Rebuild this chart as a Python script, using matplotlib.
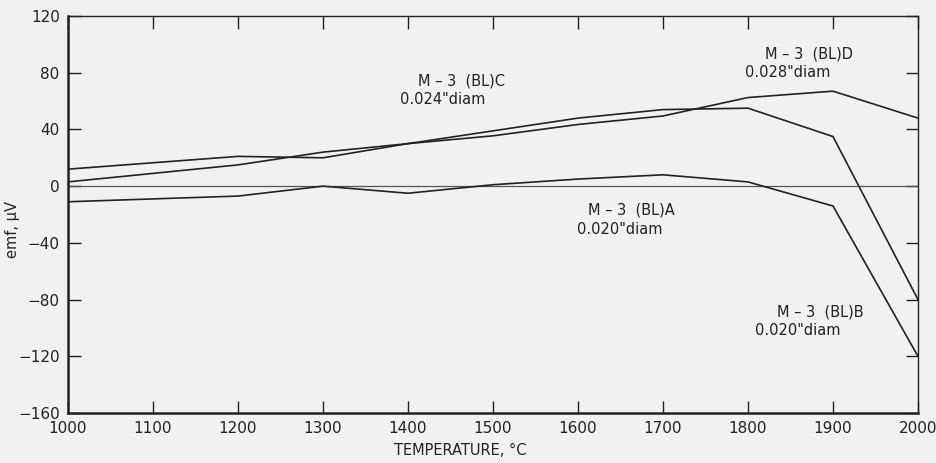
import numpy as np
import matplotlib
matplotlib.use('Agg')
import matplotlib.pyplot as plt

# temperatures, deg C
temp = [1000, 1100, 1200, 1300, 1400, 1500, 1600, 1700, 1800, 1900, 2000]

# emf readings (microvolt)
emf_A = [0, 0, 0, 0, 0, 0, 0, 0, 0, 0, 0]          # reference wire
emf_B = [-11, -9, -7, 0, -5, 1, 5, 8, 3, -14, -120]
emf_C = [12, 16.5, 21, 20, 30, 39, 48, 54, 55, 35, -80]
emf_D = [3, 9, 15, 24, 30, 35.5, 43.5, 49.5, 62.5, 67, 48]

xticks = np.arange(1000, 2001, 100)
yticks = np.arange(-160, 121, 40)

bg = '#f1f1f1'
ink = '#222222'

fig = plt.figure(figsize=(9.37, 4.63), dpi=100, facecolor=bg)
ax = fig.add_axes([0.0726, 0.108, 0.9071, 0.8574], facecolor=bg)

ax.plot(temp, emf_A, color='#555555', lw=0.9)
ax.plot(temp, emf_B, color=ink, lw=1.2)
ax.plot(temp, emf_C, color=ink, lw=1.2)
ax.plot(temp, emf_D, color=ink, lw=1.2)

ax.set_xlim(1000, 2000)
ax.set_ylim(-160, 120)
ax.set_xticks(xticks)
ax.set_yticks(yticks)
ax.tick_params(direction='in', length=9, width=1.0, color=ink,
               top=True, right=True, labelsize=11, labelcolor=ink, pad=6)
for s in ax.spines.values():
    s.set_color(ink)
    s.set_linewidth(1.0)
ax.spines['left'].set_linewidth(1.8)
ax.spines['bottom'].set_linewidth(1.8)

ax.set_xlabel('TEMPERATURE, °C', fontsize=10.5, color=ink)
ax.xaxis.set_label_coords(0.461, -0.076)
ax.set_ylabel('emf, µV', fontsize=10.5, color=ink)
ax.yaxis.set_label_coords(-0.057, 0.461)

# curve labels
kw = dict(fontsize=10.5, color=ink, va='center', ha='left')
ax.text(1412, 74.5, 'M – 3  (BL)C', **kw)
ax.text(1391, 61, '0.024"diam', **kw)
ax.text(1820, 93, 'M – 3  (BL)D', **kw)
ax.text(1796, 80, '0.028"diam', **kw)
ax.text(1612, -16.5, 'M – 3  (BL)A', **kw)
ax.text(1599, -30.5, '0.020"diam', **kw)
ax.text(1834, -88.5, 'M – 3  (BL)B', **kw)
ax.text(1808, -101.5, '0.020"diam', **kw)

plt.savefig('out.png', dpi=100, facecolor=bg)
